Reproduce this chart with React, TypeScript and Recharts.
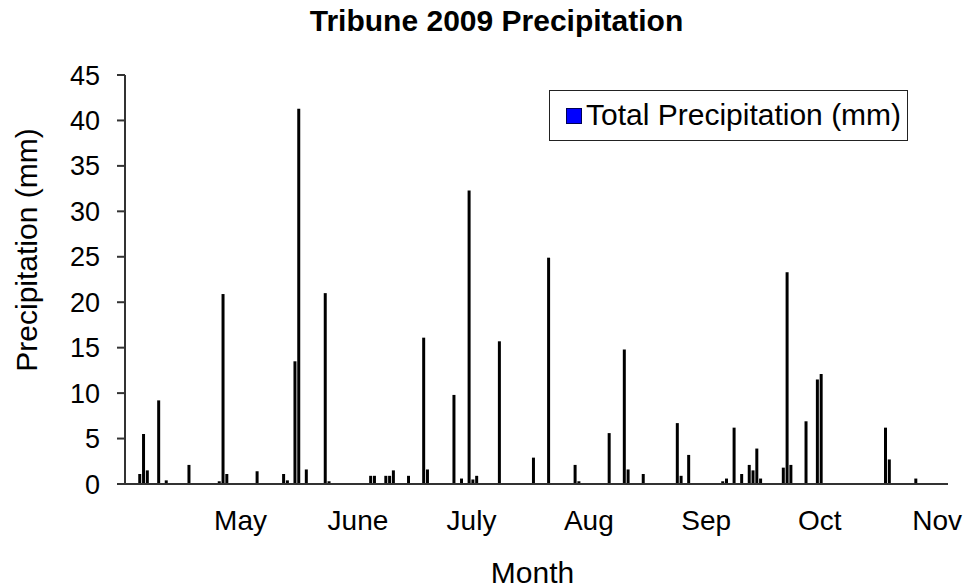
import React from 'react';
import { BarChart, Bar, XAxis, YAxis, Legend, Label } from 'recharts';

// Day offset from April 1, 2009 (0 = Apr 1) and daily precipitation (mm)
const rainDays = [
  4, 5, 6, 9, 11, 17, 25, 26, 27, 35, 42, 43, 45, 46, 48, 53, 54,
  65, 66, 69, 70, 71, 75, 79, 80, 87, 89, 91, 92, 93, 99,
  108, 112, 119, 120, 128, 132, 133, 137, 146, 147, 149,
  158, 159, 161, 163, 165, 166, 167, 168, 174, 175, 176, 180, 183, 184,
  201, 202, 209,
];
const rainMm = [
  1.1, 5.5, 1.5, 9.2, 0.4, 2.1, 0.3, 20.9, 1.1, 1.4, 1.1, 0.4, 13.5, 41.3, 1.6, 21.0, 0.3,
  0.9, 0.9, 0.9, 0.9, 1.5, 0.9, 16.1, 1.6, 9.8, 0.6, 32.3, 0.5, 0.9, 15.7,
  2.9, 24.9, 2.1, 0.3, 5.6, 14.8, 1.6, 1.1, 6.7, 0.9, 3.2,
  0.3, 0.6, 6.2, 1.1, 2.1, 1.5, 3.9, 0.6, 1.8, 23.3, 2.1, 6.9, 11.5, 12.1,
  6.2, 2.7, 0.6,
];

const monthStarts = [30, 61, 91, 122, 153, 183, 214];
const monthNames = ['May', 'June', 'July', 'Aug', 'Sep', 'Oct', 'Nov'];
const yTicks = [0, 5, 10, 15, 20, 25, 30, 35, 40, 45];

const data = rainDays.map((d, i) => ({ day: d, precip: rainMm[i] }));

const FONT = 'Arial, "Liberation Sans", sans-serif';
const AXIS = '#333333';

const renderLegend = () => (
  <div
    style={{
      width: 359,
      height: 51,
      boxSizing: 'border-box',
      border: '1.5px solid #222',
      background: '#fff',
      position: 'relative',
      fontFamily: FONT,
    }}
  >
    <div
      style={{
        position: 'absolute',
        left: 15.5,
        top: 16.5,
        width: 16,
        height: 16,
        background: '#0000ff',
        border: '1px solid #000055',
        boxSizing: 'border-box',
      }}
    />
    <span
      style={{
        position: 'absolute',
        left: 36,
        top: 9,
        fontSize: 30,
        lineHeight: '30px',
        whiteSpace: 'nowrap',
        color: '#000',
      }}
    >
      Total Precipitation (mm)
    </span>
  </div>
);

export default function App() {
  return (
    <div style={{ position: 'absolute', left: 0, top: 0, width: 969, height: 588, background: '#fff' }}>
      <div
        style={{
          position: 'absolute',
          left: 0,
          top: 6,
          width: 993,
          textAlign: 'center',
          fontFamily: FONT,
          fontWeight: 'bold',
          fontSize: 30,
          lineHeight: '30px',
          color: '#000',
          zIndex: 2,
        }}
      >
        Tribune 2009 Precipitation
      </div>
      <BarChart
        width={969}
        height={588}
        data={data}
        margin={{ top: 75, right: 21, bottom: 44, left: 65 }}
      >
        <XAxis
          type="number"
          dataKey="day"
          domain={[0, 217.4]}
          allowDataOverflow
          ticks={monthStarts}
          interval={0}
          tickFormatter={(v: number) => monthNames[monthStarts.indexOf(v)] ?? ''}
          tickLine={false}
          tickSize={0}
          tickMargin={26}
          height={60}
          axisLine={{ stroke: AXIS, strokeWidth: 2 }}
          tick={{ fill: '#000', fontSize: 28, fontFamily: FONT, dx: 2 }}
        >
          <Label
            content={() => (
              <text x={532.5} y={582.5} textAnchor="middle" fontSize={30} fontFamily={FONT} fill="#000">
                Month
              </text>
            )}
          />
        </XAxis>
        <YAxis
          type="number"
          domain={[0, 45]}
          ticks={yTicks}
          interval={0}
          width={60}
          tickSize={8}
          tickMargin={17}
          tickLine={{ stroke: AXIS, strokeWidth: 2 }}
          axisLine={{ stroke: AXIS, strokeWidth: 2 }}
          tick={{ fill: '#000', fontSize: 27, fontFamily: FONT }}
        >
          <Label
            content={() => (
              <text
                x={37}
                y={250}
                transform="rotate(-90 37 250)"
                textAnchor="middle"
                fontSize={30}
                fontFamily={FONT}
                fill="#000"
              >
                Precipitation (mm)
              </text>
            )}
          />
        </YAxis>
        <Legend
          layout="horizontal"
          verticalAlign="middle"
          align="center"
          content={renderLegend}
          wrapperStyle={{ left: 549, top: 90, width: 359, height: 51 }}
        />
        <Bar
          dataKey="precip"
          name="Total Precipitation (mm)"
          fill="#000"
          barSize={3}
          isAnimationActive={false}
        />
      </BarChart>
    </div>
  );
}
